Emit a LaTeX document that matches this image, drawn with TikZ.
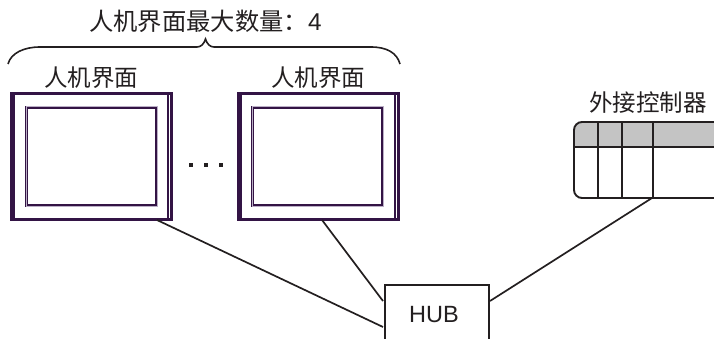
\documentclass[tikz,border=0pt]{standalone}
\usepackage{fontspec}
\usetikzlibrary{calc}
\setmainfont{Liberation Sans}
\newfontfamily\cjk{Noto Sans CJK SC}
\definecolor{frameP}{HTML}{331445}
\definecolor{liteP}{HTML}{8E7AA0}
\definecolor{inkK}{HTML}{231F20}
\definecolor{hdrG}{HTML}{C4C4C4}
\tikzset{
  x=1pt,y=-1pt,
  wire/.style={draw=inkK,line width=1.7pt},
  label/.style={inner sep=0pt,text=inkK,font=\fontsize{#1}{#1}\selectfont\cjk},
  label/.default=23.5,
  panel/.style={draw=frameP,line width=3pt,fill=white,minimum width=160pt,minimum height=125pt,inner sep=0pt,outer sep=1pt},
  screen/.style={draw=frameP,line width=3pt,minimum width=130pt,minimum height=98pt,inner sep=0pt},
  sideline/.style={draw=frameP,line width=1.3pt},
  glint/.style={draw=liteP!60,line width=1pt},
  hubbox/.style={draw=inkK,line width=1.9pt,fill=white,minimum width=104pt,minimum height=80pt,inner sep=0pt},
  ctl/.style={draw=inkK,line width=1.9pt},
  dot/.style={fill=inkK,minimum size=4pt,inner sep=0pt}
}
\begin{document}
\begin{tikzpicture}
\useasboundingbox (0,0) rectangle (714,339);
\clip (0,0) rectangle (714,339);
\node[panel] (p1) at (91,156.5) {};
\node[panel] (p2) at (318,156.5) {};
\node[hubbox,anchor=north west] (hub) at (384,284) {};
\node[inner sep=0pt,text=inkK,font=\fontsize{23.5}{23.5}\selectfont] (hubt) at (434,315) {HUB};
\coordinate (c1) at (157,220);
\coordinate (c2) at (322,220);
\coordinate (h1) at (383,327);
\coordinate (h2) at (383,301);
\coordinate (h3) at (490,301);
\coordinate (c3) at (652,198);
\draw[wire] (c1) -- (h1);
\draw[wire] (c2) -- (h2);
\draw[wire] (h3) -- (c3);
% panels
\foreach \n/\xl/\xr in {a/10/172,b/237/399}{
  \draw[sideline] (\xl+4,95)--(\xl+4,218);
  \draw[sideline] (\xr-4,95)--(\xr-4,218);
}
\node[screen] (s1) at (91.5,156.5) {};
\node[screen] (s2) at (317.5,156.5) {};
\draw[glint] ($(s1.north west)+(1,1)$) rectangle ($(s1.south east)+(-1,-1)$);
\draw[glint] ($(s2.north west)+(1,1)$) rectangle ($(s2.south east)+(-1,-1)$);
% dots
\node[dot] (d1) at (191,165) {};
\node[dot] (d2) at (206,165) {};
\node[dot] (d3) at (221,165) {};
% labels
\node[label=24.3] (t0) at (205.5,21.5) {人机界面最大数量：{\fontspec{Liberation Sans}4}};
\node[label] (t1) at (91,77.5) {人机界面};
\node[label] (t2) at (318,77.5) {人机界面};
\node[label] (t3) at (648,103) {外接控制器};
% brace
\draw[draw=inkK,line width=1.6pt] (8,64) .. controls (11,53) and (24,47) .. (40,47)
  -- (197,47) .. controls (201,47) and (204,44) .. (205.5,39)
  .. controls (207,44) and (210,47) .. (214,47)
  -- (371,47) .. controls (387,47) and (397,53) .. (400,64);
% controller
\fill[hdrG,rounded corners=8pt] (574,147) -- (574,122) -- (725,122) -- (725,147) -- cycle;
\fill[hdrG] (574,135) rectangle (725,147);
\draw[ctl,rounded corners=8pt] (725,122) -- (574,122) -- (574,198) -- (725,198);
\draw[ctl] (574,147) -- (725,147);
\coordinate (v1) at (598,122); \coordinate (w1) at (598,198);
\coordinate (v2) at (622,122); \coordinate (w2) at (622,198);
\coordinate (v3) at (653,122); \coordinate (w3) at (653,198);
\draw[ctl] (v1)--(w1) (v2)--(w2) (v3)--(w3);
\end{tikzpicture}
\end{document}
